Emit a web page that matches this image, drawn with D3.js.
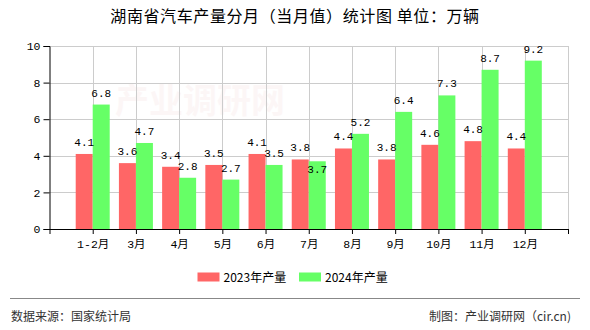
<!DOCTYPE html>
<html><head><meta charset="utf-8">
<script src="https://cdn.jsdelivr.net/npm/d3@7"></script>
<style>body{margin:0;background:#fff}svg{display:block}</style>
</head><body>
<svg id="c" width="590" height="330"></svg>
<script>
const categories = ["1-2月","3月","4月","5月","6月","7月","8月","9月","10月","11月","12月"];
const series2023 = [4.1,3.6,3.4,3.5,4.1,3.8,4.4,3.8,4.6,4.8,4.4];
const series2024 = [6.8,4.7,2.8,2.7,3.5,3.7,5.2,6.4,7.3,8.7,9.2];
const yTicks = [0,2,4,6,8,10];
const seriesNames = ["2023年产量","2024年产量"];
const colors = ["#ff6666","#66ff66"];
const title = "湖南省汽车产量分月（当月值）统计图 单位：万辆";

const svg = d3.select("#c");
const L=49.5, R=568, T=46, B=229;
const x = d3.scaleLinear().domain([0, categories.length+1]).range([L,R]);
const y = d3.scaleLinear().domain([0,10]).range([B,T]);
const bw = 17;
const monoFont = "'Liberation Mono','Noto Sans CJK SC',monospace";

// watermark
svg.append("text").attr("x",200).attr("y",113).attr("text-anchor","middle")
  .attr("font-family","'Noto Sans CJK SC'").attr("font-size",34).attr("font-weight","bold")
  .attr("fill","#f3d6d6").attr("opacity",0.2).text("产业调研网");

// title
svg.append("text").attr("x",295).attr("y",22).attr("text-anchor","middle")
  .attr("font-family","'Noto Sans CJK SC'").attr("font-size",16).attr("letter-spacing",0.6)
  .attr("fill","#000").text(title);

// grid
const g = svg.append("g");
g.selectAll(".hg").data(yTicks.filter(d=>d>0)).join("line")
  .attr("x1",L).attr("x2",R).attr("y1",d=>Math.round(y(d))+0.5).attr("y2",d=>Math.round(y(d))+0.5)
  .attr("stroke","#cccccc");
g.selectAll(".vg").data(d3.range(1,categories.length+2)).join("line")
  .attr("x1",d=>Math.round(x(d))+0.5).attr("x2",d=>Math.round(x(d))+0.5).attr("y1",T).attr("y2",B)
  .attr("stroke","#cccccc");

// bars
const data = categories.map((c,i)=>({c,i,a:series2023[i],b:series2024[i]}));
svg.append("g").selectAll("rect").data(data).join("rect")
  .attr("x",d=>x(d.i+1)-bw).attr("width",bw).attr("y",d=>y(d.a)).attr("height",d=>B-y(d.a))
  .attr("fill",colors[0]);
svg.append("g").selectAll("rect").data(data).join("rect")
  .attr("x",d=>x(d.i+1)).attr("width",bw).attr("y",d=>y(d.b)).attr("height",d=>B-y(d.b))
  .attr("fill",colors[1]);

// value labels
const lab = svg.append("g").attr("font-family",monoFont).attr("font-size",11).attr("text-anchor","middle").attr("fill","#000");
data.forEach(d=>{
  const ya = y(d.a)-8;
  let yb = y(d.b)-8;
  if (Math.abs(yb-ya) < 10) yb = y(d.b)+12;
  lab.append("text").attr("x",x(d.i+1)-bw/2).attr("y",ya).text(d.a.toFixed(1));
  lab.append("text").attr("x",x(d.i+1)+bw/2).attr("y",yb).text(d.b.toFixed(1));
});

// axes
const ax = svg.append("g").attr("transform",`translate(0,${B})`)
  .call(d3.axisBottom(x).tickValues(d3.range(0,categories.length+2)).tickSize(5).tickPadding(4)
    .tickFormat(d=> (d>=1 && d<=categories.length) ? categories[d-1] : ""));
const ay = svg.append("g").attr("transform",`translate(${L},0)`)
  .call(d3.axisLeft(y).tickValues(yTicks).tickSize(6).tickPadding(3));
[ax,ay].forEach(a=>{
  a.select(".domain").attr("stroke","#000");
  a.selectAll(".tick line").attr("stroke","#000");
  a.selectAll("text").attr("font-family",monoFont).attr("font-size",11.5).attr("fill","#000");
});
ax.select(".domain").attr("d",`M${L},0.5H${R}`);
ax.selectAll("text").attr("dy","0.9em");

// legend
const lg = svg.append("g");
const legX = [197.5, 299];
seriesNames.forEach((n,i)=>{
  lg.append("rect").attr("x",legX[i]).attr("y",272.5).attr("width",22).attr("height",9).attr("fill",colors[i]);
  lg.append("text").attr("x",legX[i]+26).attr("y",282).attr("font-family","'Noto Sans CJK SC'")
    .attr("font-size",12).attr("fill","#000").text(n);
});

// footer
svg.append("line").attr("x1",10).attr("x2",580).attr("y1",298.5).attr("y2",298.5).attr("stroke","#888").attr("stroke-width",1.2);
svg.append("text").attr("x",11).attr("y",321).attr("font-family","'Noto Sans CJK SC'").attr("font-size",12)
  .attr("fill","#333").text("数据来源：国家统计局");
svg.append("text").attr("x",571).attr("y",321).attr("text-anchor","end").attr("font-family","'Noto Sans CJK SC'").attr("font-size",12)
  .attr("fill","#333").text("制图：产业调研网（cir.cn)");
</script>
</body></html>
